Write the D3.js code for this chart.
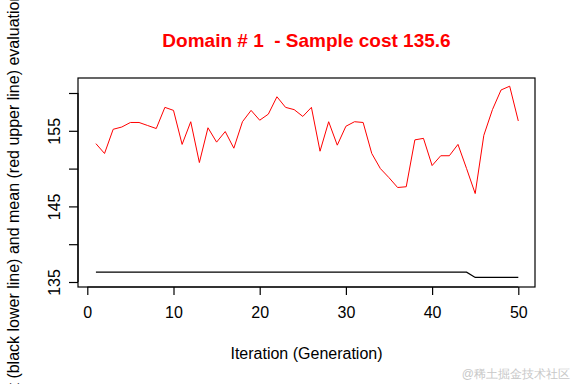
<!DOCTYPE html>
<html>
<head>
<meta charset="utf-8">
<script src="https://cdn.jsdelivr.net/npm/d3@7"></script>
<style>
  body { margin: 0; background: #fff; }
  text { font-family: "Liberation Sans", Arial, sans-serif; }
</style>
</head>
<body>
<svg id="chart" width="576" height="384"></svg>
<script>
// DATA
const generations = d3.range(1, 51);
const meanCost = [153.3, 152.0, 155.2, 155.5, 156.1, 156.1, 155.7, 155.3, 158.1, 157.7,
                  153.2, 156.2, 150.8, 155.4, 153.5, 154.9, 152.7, 156.2, 157.7, 156.4,
                  157.2, 159.5, 158.1, 157.8, 156.9, 158.1, 152.3, 156.2, 153.1, 155.6,
                  156.2, 156.1, 152.0, 150.0, 148.8, 147.5, 147.6, 153.8, 154.0, 150.4,
                  151.7, 151.7, 153.2, 150.0, 146.7, 154.4, 157.8, 160.4, 160.9, 156.3];
const bestCost = generations.map(g => g < 45 ? 136.3 : 135.6);
const xTicks = [0, 10, 20, 30, 40, 50];
const yTicks = [135, 140, 145, 150, 155, 160];
const yLabelTicks = [135, 145, 155];

// SET VARIABLES
const _box = {left: 78, right: 535, top: 78, bottom: 287};
const svg = d3.select('#chart');

const x = d3.scaleLinear().domain([0, 50]).range([87.3, 518.3]);
const y = d3.scaleLinear().domain([135, 160]).range([282, 93]);

// TITLE
svg.append('text')
    .attr('x', (_box.left + _box.right) / 2)
    .attr('y', 47)
    .attr('text-anchor', 'middle')
    .attr('font-size', '19px')
    .attr('font-weight', 'bold')
    .attr('fill', '#ff0000')
    .style('white-space', 'pre')
    .text('Domain # 1  - Sample cost 135.6');

// BOX
svg.append('rect')
    .attr('x', _box.left)
    .attr('y', _box.top)
    .attr('width', _box.right - _box.left)
    .attr('height', _box.bottom - _box.top)
    .attr('fill', 'none')
    .attr('stroke', '#000')
    .attr('stroke-width', 1.2);

// AXES
let xAxis = svg.append('g')
    .attr('transform', `translate(0, ${_box.bottom})`)
    .call(d3.axisBottom(x).tickValues(xTicks).tickSize(8).tickPadding(12).tickFormat(d3.format('d')));
let yAxis = svg.append('g')
    .attr('transform', `translate(${_box.left}, 0)`)
    .call(d3.axisLeft(y).tickValues(yTicks).tickSize(9).tickFormat(d => yLabelTicks.includes(d) ? d : ''));

[xAxis, yAxis].forEach(ax => {
  ax.select('.domain').attr('stroke', '#000').attr('stroke-width', 1.2);
  ax.selectAll('.tick line').attr('stroke', '#000').attr('stroke-width', 1.2);
  ax.selectAll('text')
      .attr('font-family', '"Liberation Sans", Arial, sans-serif')
      .attr('font-size', '16px')
      .attr('fill', '#000');
});
xAxis.select('.domain').attr('d', `M${x(0)},0H${x(50)}`);
yAxis.select('.domain').attr('d', `M0,${y(135)}V${y(160)}`);
yAxis.selectAll('.tick text')
    .attr('text-anchor', 'middle')
    .attr('dy', null)
    .attr('x', null)
    .attr('transform', 'translate(-18, 0) rotate(-90)')
    .attr('y', 0);

// LINES
const line = d3.line().x((d, i) => x(generations[i])).y(d => y(d));
svg.append('path')
    .datum(meanCost)
    .attr('d', line)
    .attr('fill', 'none')
    .attr('stroke', '#ff0000')
    .attr('stroke-width', 1);
svg.append('path')
    .datum(bestCost)
    .attr('d', line)
    .attr('fill', 'none')
    .attr('stroke', '#000')
    .attr('stroke-width', 1.2);

// AXIS TITLES
svg.append('text')
    .attr('x', (_box.left + _box.right) / 2)
    .attr('y', 359)
    .attr('text-anchor', 'middle')
    .attr('font-size', '16px')
    .text('Iteration (Generation)');
svg.append('text')
    .attr('transform', `translate(19, ${(_box.top + _box.bottom) / 2}) rotate(-90)`)
    .attr('text-anchor', 'middle')
    .attr('font-size', '16px')
    .text('Best (black lower line) and mean (red upper line) evaluation value');

// WATERMARK
svg.append('text')
    .attr('x', 570)
    .attr('y', 378)
    .attr('text-anchor', 'end')
    .attr('font-family', '"Noto Sans CJK SC", sans-serif')
    .attr('font-size', '12px')
    .attr('fill', '#c8c8c8')
    .text('@稀土掘金技术社区');
</script>
</body>
</html>
